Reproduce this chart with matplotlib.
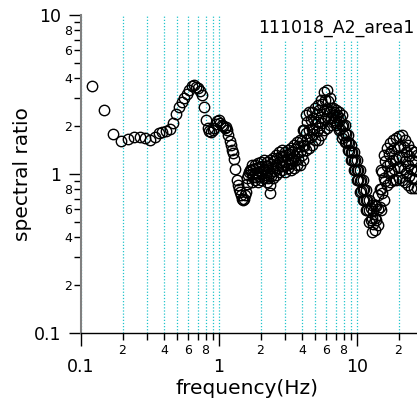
import numpy as np
import matplotlib
matplotlib.use("Agg")
import matplotlib.pyplot as plt
from matplotlib.ticker import LogLocator, FuncFormatter

# sparse low-frequency part of the spectral ratio
freq_sparse = [0.121, 0.146, 0.170, 0.194, 0.219, 0.243, 0.268, 0.292, 0.316, 0.341,
               0.365, 0.389, 0.414, 0.438, 0.463, 0.487, 0.511, 0.536, 0.560, 0.584,
               0.609, 0.633, 0.658, 0.682, 0.706, 0.731, 0.755, 0.779, 0.804, 0.828,
               0.853, 0.877, 0.901, 0.926, 0.950, 0.974, 0.999, 1.023, 1.048, 1.072,
               1.097, 1.121, 1.145, 1.170, 1.194, 1.219, 1.243, 1.267, 1.292, 1.316,
               1.341, 1.365, 1.389, 1.414, 1.438, 1.463, 1.487, 1.511, 1.536, 1.560,
               1.584, 1.609, 1.633, 1.658, 1.682, 1.706, 2.33]
ratio_sparse = [3.56, 2.54, 1.79, 1.62, 1.65, 1.70, 1.72, 1.68, 1.64, 1.72,
                1.80, 1.84, 1.87, 1.93, 2.10, 2.40, 2.65, 2.85, 3.02, 3.20,
                3.38, 3.60, 3.65, 3.55, 3.45, 3.35, 3.15, 2.65, 2.20, 1.95,
                1.87, 1.85, 1.88, 1.94, 2.05, 2.15, 2.19, 2.10, 2.03, 2.00,
                1.95, 1.98, 1.90, 1.76, 1.62, 1.52, 1.42, 1.35, 1.24, 1.07,
                0.92, 0.85, 0.81, 0.77, 0.74, 0.70, 0.686, 0.70, 0.74, 0.77,
                0.87, 0.95, 0.99, 1.03, 1.06, 1.06, 0.76]

# dense high-frequency part: upper edge, middle and lower edge of the scatter band
band_freq = [1.734, 1.823, 1.917, 2.015, 2.119, 2.227, 2.342, 2.462, 2.588, 2.722,
             2.861, 3.008, 3.162, 3.325, 3.496, 3.675, 3.864, 4.062, 4.271, 4.490,
             4.720, 4.963, 5.217, 5.485, 5.767, 6.063, 6.374, 6.701, 7.045, 7.406,
             7.787, 8.186, 8.606, 9.048, 9.512, 10.0, 10.51, 11.05, 11.62, 12.22,
             12.84, 13.50, 14.20, 14.92, 15.69, 16.50, 17.34, 18.23, 19.17, 20.15,
             21.19, 22.27, 23.42, 24.62, 25.88, 27.22]
band_top = [1.14, 1.14, 1.17, 1.19, 1.225, 1.19, 1.225, 1.26, 1.32, 1.375,
            1.416, 1.375, 1.416, 1.457, 1.52, 1.59, 1.64, 1.89, 2.35, 2.455,
            2.455, 2.60, 2.72, 2.92, 3.28, 3.375, 3.01, 2.60, 2.53, 2.455,
            2.35, 2.03, 1.76, 1.52, 1.375, 1.225, 1.06, 0.917, 0.793, 0.686,
            0.638, 0.638, 0.738, 1.06, 1.32, 1.457, 1.567, 1.636, 1.684, 1.734,
            1.76, 1.636, 1.52, 1.416, 1.375, 1.317]
band_mid = [1.0, 1.02, 1.02, 1.04, 1.07, 1.03, 1.02, 1.09, 1.14, 1.19,
            1.22, 1.19, 1.24, 1.24, 1.29, 1.35, 1.37, 1.52, 1.82, 1.89,
            1.93, 2.06, 2.11, 2.27, 2.49, 2.57, 2.47, 2.35, 2.27, 2.15,
            1.99, 1.80, 1.58, 1.37, 1.21, 1.06, 0.90, 0.79, 0.69, 0.59,
            0.53, 0.53, 0.60, 0.80, 0.95, 1.12, 1.18, 1.22, 1.24, 1.28,
            1.27, 1.21, 1.14, 1.08, 1.06, 1.04]
band_bot = [0.891, 0.917, 0.891, 0.917, 0.944, 0.891, 0.853, 0.944, 0.986, 1.03,
            1.06, 1.03, 1.09, 1.06, 1.09, 1.14, 1.14, 1.225, 1.416, 1.457,
            1.52, 1.64, 1.64, 1.76, 1.89, 1.95, 2.03, 2.12, 2.03, 1.89,
            1.68, 1.59, 1.416, 1.225, 1.06, 0.917, 0.770, 0.686, 0.594, 0.499,
            0.432, 0.444, 0.478, 0.594, 0.686, 0.853, 0.891, 0.917, 0.917, 0.944,
            0.917, 0.891, 0.853, 0.816, 0.816, 0.816]

# second set of band points, between the frequencies above
band_freq2 = [1.778, 1.869, 1.965, 2.066, 2.173, 2.284, 2.401, 2.524, 2.654, 2.791,
              2.933, 3.084, 3.242, 3.409, 3.584, 3.768, 3.962, 4.165, 4.379, 4.604,
              4.839, 5.089, 5.349, 5.623, 5.913, 6.216, 6.535, 6.871, 7.223, 7.593,
              7.984, 8.393, 8.824, 9.277, 9.753, 10.25, 10.78, 11.33, 11.91, 12.53,
              13.16, 13.84, 14.56, 15.30, 16.09, 16.92, 17.78, 18.69, 19.66, 20.66,
              21.73, 22.83, 24.01, 25.24, 26.54]
band_q1 = [1.08, 1.09, 1.11, 1.13, 1.13, 1.12, 1.15, 1.20, 1.26, 1.30,
           1.30, 1.31, 1.34, 1.38, 1.44, 1.49, 1.61, 1.90, 2.13, 2.18,
           2.26, 2.37, 2.51, 2.74, 2.93, 2.86, 2.61, 2.44, 2.35, 2.24,
           2.04, 1.79, 1.56, 1.37, 1.22, 1.06, 0.917, 0.80, 0.69, 0.61,
           0.584, 0.627, 0.80, 1.03, 1.21, 1.33, 1.40, 1.45, 1.48, 1.51,
           1.47, 1.38, 1.29, 1.23, 1.20]
band_q3 = [0.957, 0.962, 0.967, 0.993, 0.984, 0.949, 0.977, 1.04, 1.09, 1.13,
           1.13, 1.14, 1.16, 1.17, 1.22, 1.25, 1.31, 1.50, 1.65, 1.70,
           1.79, 1.86, 1.95, 2.10, 2.23, 2.26, 2.24, 2.19, 2.09, 1.93,
           1.77, 1.60, 1.40, 1.22, 1.06, 0.912, 0.787, 0.69, 0.593, 0.513,
           0.484, 0.513, 0.618, 0.758, 0.902, 1.01, 1.05, 1.07, 1.10, 1.10,
           1.07, 1.02, 0.972, 0.943, 0.933]

title = "111018_A2_area1"

fig = plt.figure(figsize=(4.17, 4.01), dpi=100)
ax = fig.add_axes([81 / 417, 68 / 401, 336 / 417, 318 / 401])

freq = np.concatenate([freq_sparse, band_freq, band_freq, band_freq,
                       band_freq2, band_freq2])
ratio = np.concatenate([ratio_sparse, band_top, band_mid, band_bot,
                        band_q1, band_q3])
ax.plot(freq, ratio, linestyle="none", marker="o", ms=7.5, mfc="none",
        mec="black", mew=1.0, zorder=3)

ax.set_xscale("log")
ax.set_yscale("log")
ax.set_xlim(0.1, 27.22)
ax.set_ylim(0.1, 10)

def minor_fmt(v, pos):
    d = int(round(v / 10 ** np.floor(np.log10(v) + 1e-9)))
    return str(d) if d in (2, 4, 6, 8) else ""

def major_fmt(v, pos):
    return "%g" % v

for axis in (ax.xaxis, ax.yaxis):
    axis.set_major_locator(LogLocator(base=10, numticks=10))
    axis.set_minor_locator(LogLocator(base=10, subs=np.arange(2, 10), numticks=50))
    axis.set_major_formatter(FuncFormatter(major_fmt))
    axis.set_minor_formatter(FuncFormatter(minor_fmt))

ax.tick_params(axis="both", which="major", length=9, width=1, labelsize=12.5)
ax.tick_params(axis="both", which="minor", length=5, width=1, labelsize=9)
ax.tick_params(axis="x", which="major", pad=9)
ax.tick_params(axis="x", which="minor", pad=3)
ax.tick_params(axis="y", which="major", pad=5)
ax.tick_params(axis="y", which="minor", pad=1.5)

ax.set_axisbelow(True)
ax.grid(True, which="both", axis="x", color="#22c4cc", linestyle=(0, (1, 1.5)),
        linewidth=0.9)

for s in ("top", "right"):
    ax.spines[s].set_visible(False)
ax.spines["left"].set_color("#808080")
ax.spines["left"].set_linewidth(1.5)
ax.spines["bottom"].set_color("black")
ax.spines["bottom"].set_linewidth(1)

ax.set_xlabel("frequency(Hz)", fontsize=14.5)
ax.set_ylabel("spectral ratio", fontsize=14.5)
ax.xaxis.set_label_coords(0.495, -0.145)
ax.yaxis.set_label_coords(-0.146, 0.5)

fig.text(0.995, (401 - 28) / 401, title, ha="right", va="center", fontsize=12.5,
         bbox=dict(facecolor="white", edgecolor="none", pad=2))

fig.savefig("out.png", dpi=100)
